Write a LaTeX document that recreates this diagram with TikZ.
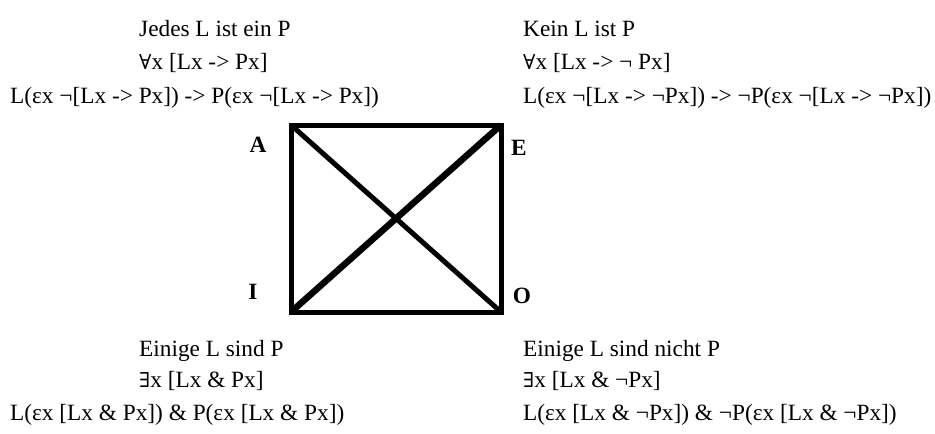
\documentclass[tikz,border=0pt]{standalone}
\usepackage{fontspec}
\setmainfont{Liberation Serif}
\newfontfamily\qsymfont{DejaVu Serif}
\newcommand{\qall}{{\qsymfont\fontsize{20.5}{24}\selectfont ∀}}
\newcommand{\qexi}{{\qsymfont\fontsize{20.5}{24}\selectfont ∃}}
\tikzset{
  txt/.style={anchor=base west, inner sep=0pt, font=\fontsize{23.3}{28}\selectfont},
  lbl/.style={inner sep=0pt, font=\fontsize{23.3}{28}\selectfont\bfseries},
  edge/.style={line width=5pt, line join=miter},
  diagA/.style={line width=5pt},
  diagB/.style={line width=6.5pt}
}
\begin{document}
\begin{tikzpicture}[x=1pt,y=-1pt]
\useasboundingbox (0,0) rectangle (935,434);
% top left
\node[txt] (a1) at (139,36) {Jedes L ist ein P};
\node[txt] (a2) at (139,69) {\qall x [Lx -> Px]};
\node[txt] (a3) at (10,103) {L(εx ¬[Lx -> Px]) -> P(εx ¬[Lx -> Px])};
% top right
\node[txt] (e1) at (523,36) {Kein L ist P};
\node[txt] (e2) at (523,69) {\qall x [Lx -> ¬ Px]};
\node[txt] (e3) at (523,103) {L(εx ¬[Lx -> ¬Px]) -> ¬P(εx ¬[Lx -> ¬Px])};
% bottom left
\node[txt] (i1) at (139,356) {Einige L sind P};
\node[txt] (i2) at (139,387) {\qexi x [Lx \& Px]};
\node[txt] (i3) at (10,420) {L(εx [Lx \& Px]) \& P(εx [Lx \& Px])};
% bottom right
\node[txt] (o1) at (523,356) {Einige L sind nicht P};
\node[txt] (o2) at (523,387) {\qexi x [Lx \& ¬Px]};
\node[txt] (o3) at (523,420) {L(εx [Lx \& ¬Px]) \& ¬P(εx [Lx \& ¬Px])};
% square
\coordinate (A) at (291,125);
\coordinate (E) at (501,125);
\coordinate (I) at (291,312);
\coordinate (O) at (501,312);
\draw[edge] (A) -- (E) -- (O) -- (I) -- cycle;
\draw[diagA] (A) -- (O);
\draw[diagB] (I) -- (E);
% labels
\node[lbl] (lA) at (258,145) {A};
\node[lbl] (lE) at (519,148) {E};
\node[lbl] (lI) at (253,292) {I};
\node[lbl] (lO) at (522,296) {O};
\end{tikzpicture}
\end{document}
